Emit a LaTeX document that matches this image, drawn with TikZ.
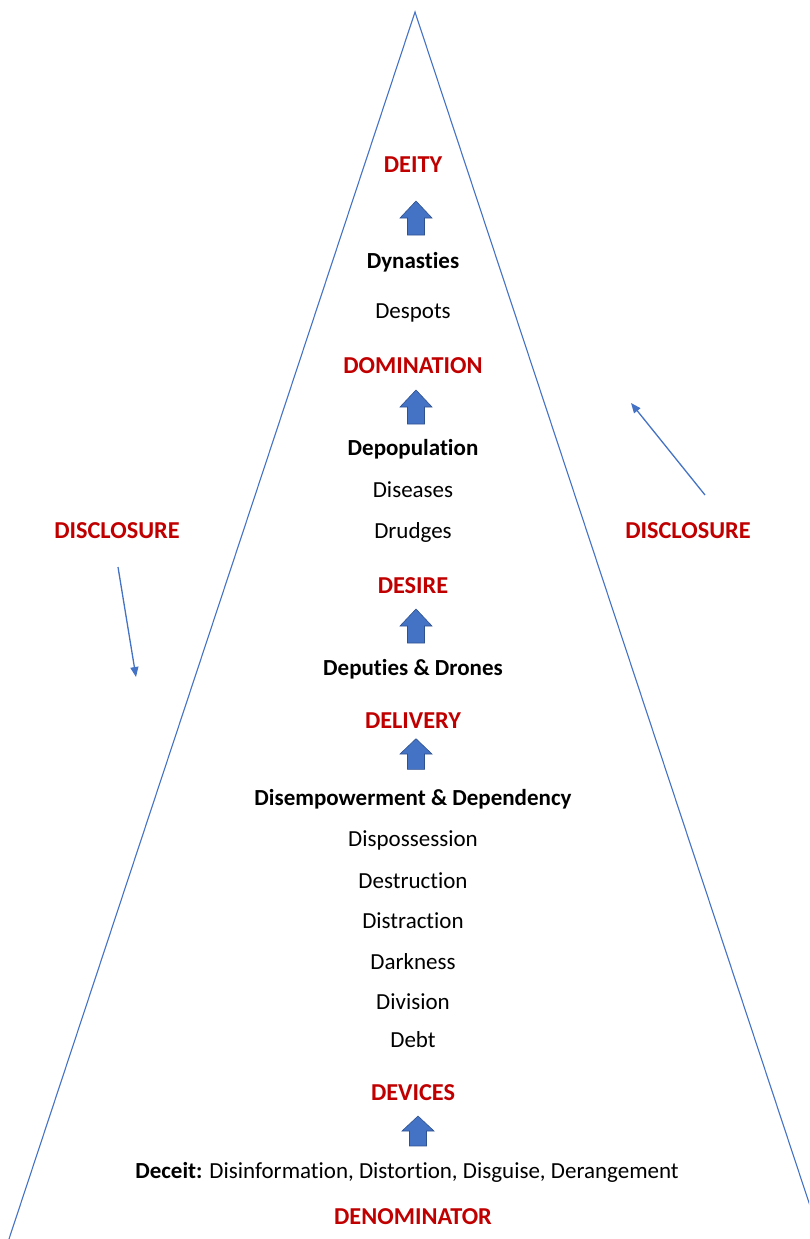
\documentclass[tikz,border=0pt]{standalone}
\usepackage{fontspec}
\setmainfont[RawFeature={-liga;-clig;-calt;-dlig}]{Carlito}
\usetikzlibrary{arrows.meta}
\definecolor{lineblue}{HTML}{4472C4}
\definecolor{arrowedge}{HTML}{2F528F}
\definecolor{labred}{HTML}{C00000}
\begin{document}
\begin{tikzpicture}[x=1pt,y=-1pt,
  base/.style={font=\fontsize{23}{27}\selectfont, inner sep=0pt, anchor=center},
  level/.style={base, text=labred, font=\fontsize{24.3}{28}\selectfont\bfseries},
  bolditem/.style={base, font=\fontsize{23}{27}\selectfont\bfseries},
  item/.style={base},
  side/.style={draw=lineblue, line width=1.1pt},
  pointer/.style={draw=lineblue, line width=1.3pt, -{Triangle[length=10pt,width=8pt]}},
  blockup/.pic={\draw[draw=arrowedge, fill=lineblue, line width=0.6pt]
    (-8.5,17) -- (-8.5,0) -- (-16,0) -- (0,-17) -- (16,0) -- (8.5,0) -- (8.5,17) -- cycle;}
]
\useasboundingbox (0,0) rectangle (809,1239);
\begin{scope}
\clip (0,0) rectangle (809,1239);
\coordinate (apex) at (415,12);
\coordinate (bl) at (9,1239);
\coordinate (br) at (821,1239);
\draw[side] (bl) -- (apex) -- (br);
\end{scope}

\node[level] (deity) at (413,165) {DEITY};
\pic (a1) at (416,218) {blockup};
\node[bolditem] (dyn) at (413,262) {Dynasties};
\node[item] (desp) at (413,313) {Despots};
\node[level] (dom) at (413,366) {DOMINATION};
\pic (a2) at (416,407) {blockup};
\node[bolditem] (depop) at (413,449) {Depopulation};
\node[item] (dis) at (413,490) {Diseases};
\node[item] (drud) at (413,532) {Drudges};
\node[level] (desire) at (413,586) {DESIRE};
\pic (a3) at (416,626) {blockup};
\node[bolditem] (dep) at (413,669) {Deputies \& Drones};
\node[level] (deliv) at (413,721) {DELIVERY};
\pic[yscale=0.9] (a4) at (416,754) {blockup};
\node[bolditem] (disemp) at (413,799) {Disempowerment \& Dependency};
\node[item] (dispos) at (413,840) {Dispossession};
\node[item] (destr) at (413,881) {Destruction};
\node[item] (distr) at (413,921) {Distraction};
\node[item] (dark) at (413,962) {Darkness};
\node[item] (divi) at (413,1002) {Division};
\node[item] (debt) at (413,1040) {Debt};
\node[level] (devices) at (413,1093) {DEVICES};
\pic[yscale=0.88] (a5) at (418,1131) {blockup};
\node[item] (deceit) at (407,1172) {\textbf{Deceit:} Disinformation, Distortion, Disguise, Derangement};
\node[level] (denom) at (413,1217) {DENOMINATOR};

\node[level] (discL) at (117,531) {DISCLOSURE};
\node[level] (discR) at (688,531) {DISCLOSURE};
\coordinate (lstart) at (118,567);
\coordinate (lend) at (136,677);
\coordinate (rstart) at (705,495);
\coordinate (rend) at (631,403);
\draw[pointer] (lstart) -- (lend);
\draw[pointer] (rstart) -- (rend);
\end{tikzpicture}
\end{document}
